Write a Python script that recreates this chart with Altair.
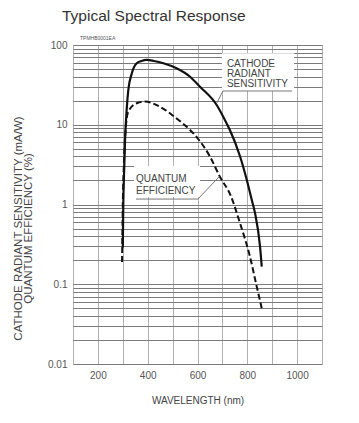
import altair as alt
import pandas as pd

FONT = "Liberation Sans"

# Curves
solid_nm = [300, 302, 306, 309, 313, 322, 336, 356, 375, 396, 425, 463, 516, 570, 610, 677, 717, 730, 771, 798, 818, 831, 851, 858]
solid_val = [0.29, 1.0, 3.0, 6.4, 11.5, 27, 44, 59, 63, 65, 63, 59, 51, 40, 30, 17.7, 10.4, 8.6, 4.0, 2.03, 1.14, 0.78, 0.30, 0.166]

dashed_nm = [297, 300, 304, 308, 313, 322, 356, 389, 449, 516, 570, 600, 650, 690, 733, 771, 811, 838, 858]
dashed_val = [0.19, 1.0, 3.0, 6.0, 10, 14.6, 18.6, 19.5, 16.8, 12, 8.6, 6.8, 4.0, 2.23, 1.3, 0.58, 0.22, 0.093, 0.05]

x_grid = [100, 200, 300, 400, 500, 600, 700, 800, 900, 1000, 1100]
y_grid = [m * 10 ** e for e in (-2, -1, 0, 1) for m in (1, 2, 3, 4, 5, 6, 7, 8, 9)] + [100]
y_grid = [float(f"{v:.3g}") for v in y_grid]

label_text = ["CATHODE", "RADIANT", "SENSITIVITY", "QUANTUM", "EFFICIENCY"]
label_x = [718, 718, 718, 353, 353]
label_y = [57.8, 43.3, 32.4, 2.08, 1.48]

box_x = [698, 345]
box_x2 = [988, 610]
box_y = [79, 3.05]
box_y2 = [26.5, 1.24]

lead_x = [702, 702, 353, 602]
lead_x2 = [980, 678, 602, 688]
lead_y = [26.5, 26.5, 1.17, 1.17]
lead_y2 = [26.5, 18.8, 1.17, 2.25]

df_s = pd.DataFrame({"nm": solid_nm, "v": solid_val})
df_d = pd.DataFrame({"nm": dashed_nm, "v": dashed_val})
df_lab = pd.DataFrame({"t": label_text, "x": label_x, "y": label_y})
df_box = pd.DataFrame({"x": box_x, "x2": box_x2, "y": box_y, "y2": box_y2})
df_lead = pd.DataFrame({"x": lead_x, "x2": lead_x2, "y": lead_y, "y2": lead_y2})

xscale = alt.Scale(domain=[100, 1100], nice=False, zero=False)
yscale = alt.Scale(type="log", domain=[0.01, 100], nice=False)

xaxis = alt.Axis(
    values=x_grid, grid=True, gridColor="#b0b0b0", gridWidth=1, ticks=False, tickSize=0,
    domain=False, labelFont=FONT, labelFontSize=10, labelColor="#555", labelPadding=6,
    labelOverlap=False, format="d",
    labelExpr="(datum.value == 200 || datum.value == 400 || datum.value == 600 || datum.value == 800 || datum.value == 1000) ? datum.label : ''",
    title="WAVELENGTH (nm)", titleFont=FONT, titleFontSize=10, titleFontWeight="normal",
    titleColor="#444", titlePadding=15, labelFlush=False,
)
yaxis = alt.Axis(
    values=y_grid, grid=True, gridColor="#7a7a7a", gridWidth=1, ticks=False, tickSize=0,
    domain=False, labelFont=FONT, labelFontSize=10, labelColor="#555", labelPadding=6,
    format="~g", labelOverlap=False,
    labelExpr="(datum.value == 0.01 || datum.value == 0.1 || datum.value == 1 || datum.value == 10 || datum.value == 100) ? datum.label : ''",
    title=["CATHODE RADIANT SENSITIVITY (mA/W)", "QUANTUM EFFICIENCY (%)"],
    titleFont=FONT, titleFontSize=11.5, titleFontWeight="normal", titleColor="#444",
    titleLineHeight=10.5, titlePadding=14, titleY=183, labelFlush=False,
)

base_x = alt.X("nm:Q", scale=xscale, axis=xaxis)
base_y = alt.Y("v:Q", scale=yscale, axis=yaxis)

solid = alt.Chart(df_s).mark_line(color="#111", strokeWidth=2.2, interpolate="monotone").encode(x=base_x, y=base_y)
dashed = alt.Chart(df_d).mark_line(color="#111", strokeWidth=2, strokeDash=[6, 3], interpolate="monotone").encode(
    x=alt.X("nm:Q", scale=xscale, axis=xaxis), y=alt.Y("v:Q", scale=yscale, axis=yaxis)
)

boxes = alt.Chart(df_box).mark_rect(color="white").encode(
    x=alt.X("x:Q", scale=xscale, axis=xaxis), x2="x2:Q", y=alt.Y("y:Q", scale=yscale, axis=yaxis), y2="y2:Q"
)
leads = alt.Chart(df_lead).mark_rule(color="#777", strokeWidth=1).encode(
    x=alt.X("x:Q", scale=xscale, axis=xaxis), x2="x2:Q", y=alt.Y("y:Q", scale=yscale, axis=yaxis), y2="y2:Q"
)
labels = alt.Chart(df_lab).mark_text(
    align="left", baseline="middle", font=FONT, fontSize=10, color="#444"
).encode(x=alt.X("x:Q", scale=xscale, axis=xaxis), y=alt.Y("y:Q", scale=yscale, axis=yaxis), text="t:N")

code = alt.Chart(pd.DataFrame({"t": ["TPMHB0001EA"]})).mark_text(
    align="left", baseline="middle", font=FONT, fontSize=5, color="#555"
).encode(x=alt.value(7), y=alt.value(-7), text="t:N")

chart = alt.layer(solid, boxes, dashed, leads, labels, code).properties(
    width=249, height=319,
    title=alt.Title("Typical Spectral Response", anchor="start", frame="group", dx=-11, offset=12,
                    font=FONT, fontSize=15.5, fontWeight="normal", color="#333"),
    autosize=alt.AutoSizeParams(type="none"),
    padding={"left": 65, "top": 37, "right": 29, "bottom": 51},
).configure_view(stroke="#333", strokeWidth=1.5).configure(background="white")

chart.save("out.html", embed_options={"renderer": "svg", "actions": False})
